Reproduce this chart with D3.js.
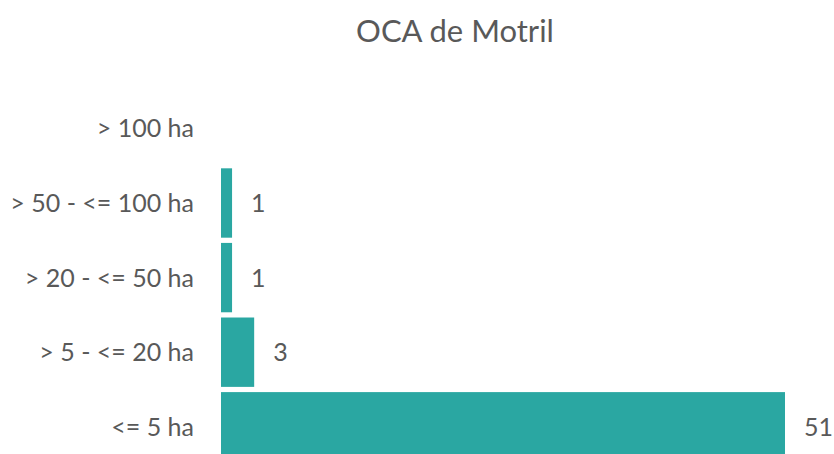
<!DOCTYPE html>
<html><head><meta charset="utf-8">
<script src="https://cdn.jsdelivr.net/npm/d3@7"></script>
<style>html,body{margin:0;padding:0;background:#fff;overflow:hidden}</style>
</head><body>
<svg id="chart" width="834" height="454"></svg>
<script>
const title = "OCA de Motril";
const categories = ["> 100 ha", "> 50 - <= 100 ha", "> 20 - <= 50 ha", "> 5 - <= 20 ha", "<= 5 ha"];
const values = [null, 1, 1, 3, 51];

const svg = d3.select("#chart");
const W = 834, H = 454;
const font = "Lato, 'Open Sans', sans-serif";
const textColor = "#595959";
const barColor = "#2AA7A2";

const x = d3.scaleLinear().domain([0, 51]).range([221, 785]);
const y = d3.scaleBand().domain(categories).range([88.5, 466.7]).paddingInner(0.07).paddingOuter(0.07);

svg.append("text").attr("x", 455).attr("y", 42).attr("text-anchor", "middle")
  .attr("font-family", font).attr("font-size", 31).attr("fill", textColor).text(title);

const data = categories.map((c, i) => ({c, v: values[i]}));

svg.append("g").selectAll("rect").data(data.filter(d => d.v != null)).join("rect")
  .attr("x", x(0)).attr("y", d => y(d.c))
  .attr("width", d => x(d.v) - x(0)).attr("height", y.bandwidth())
  .attr("fill", barColor);

const yAxis = d3.axisLeft(y).tickSize(0).tickPadding(0);
const ga = svg.append("g").attr("transform", "translate(194,0)").call(yAxis);
ga.select(".domain").remove();
ga.selectAll("text").attr("font-family", font).attr("font-size", 25).attr("fill", textColor)
  .attr("dy", "0.36em");

svg.append("g").selectAll("text").data(data.filter(d => d.v != null)).join("text")
  .attr("x", d => x(d.v) + 19).attr("y", d => y(d.c) + y.bandwidth() / 2)
  .attr("dy", "0.36em")
  .attr("font-family", font).attr("font-size", 25).attr("fill", textColor)
  .text(d => d.v);
</script>
</body></html>
